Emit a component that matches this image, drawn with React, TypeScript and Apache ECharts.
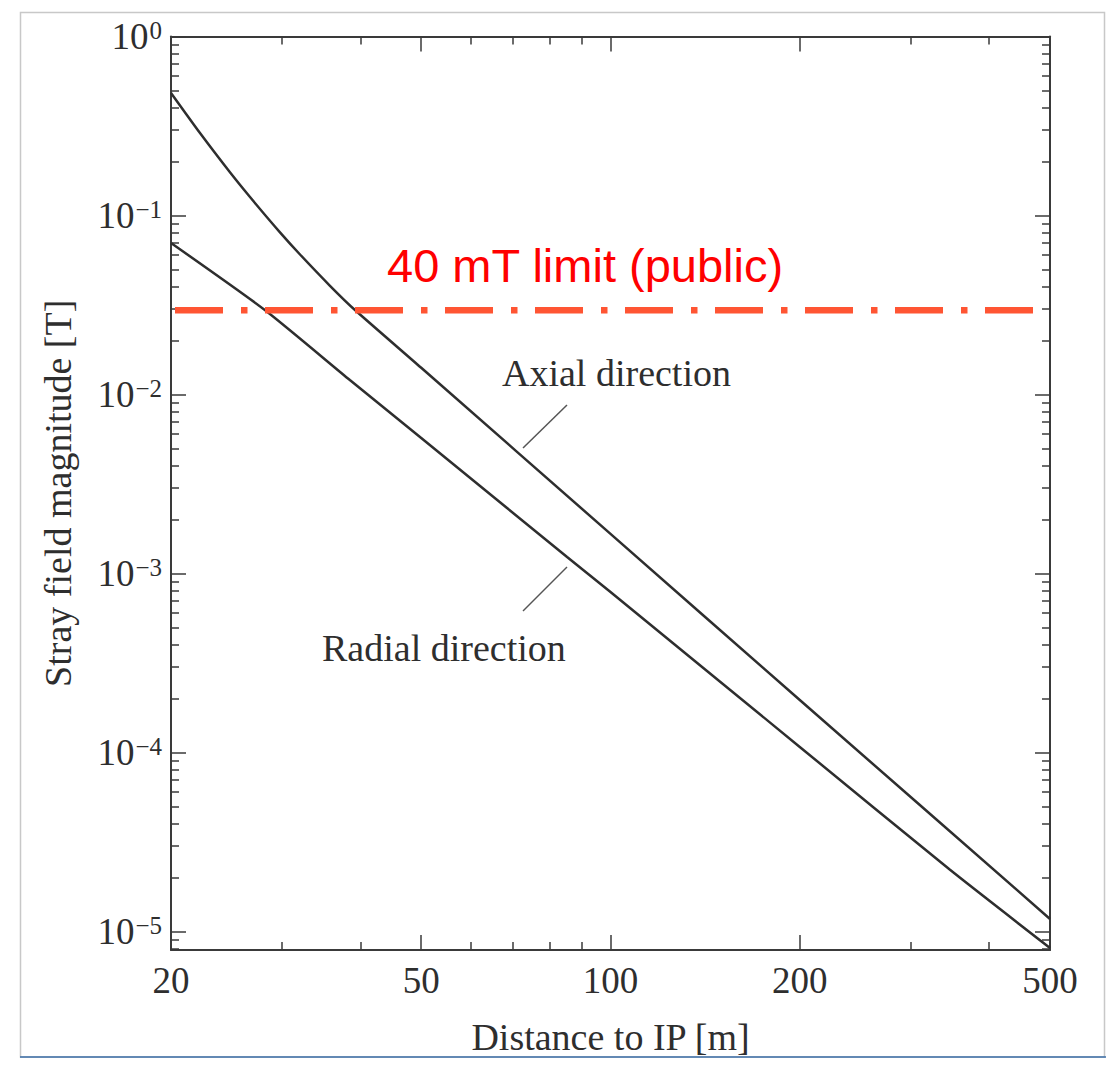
import React, { useEffect, useRef } from "react";
import * as echarts from "echarts";

// ---- data ----
const distanceAxial = [20, 22.24, 24.82, 26.71, 29.81, 32.08, 35.8, 39.23, 50, 100, 200, 500];
const fieldAxial = [0.4834, 0.2887, 0.1743, 0.1268, 0.0805, 0.06054, 0.04049, 0.02965, 0.0141, 0.001664, 0.0001965, 0.00001175];

const distanceRadial = [20, 28.2, 38.5, 50, 85.3, 100, 200, 346.7, 500];
const fieldRadial = [0.0702, 0.02965, 0.01205, 0.00571, 0.001236, 0.000788, 0.0001074, 0.0000221, 0.00000809];

const limitDistance = [20, 500];
const limitValue = 0.0296;

const xLabelValues = [20, 50, 100, 200, 500];
const xMajorTicks = [50, 100, 200];
const xMinorTicks = [30, 40, 60, 70, 80, 90, 300, 400];
const yLabelValues = [1, 0.1, 0.01, 0.001, 0.0001, 0.00001];
const yMinorMantissas = [2, 3, 4, 5, 6, 7, 8, 9];
const yMinorDecades = [-6, -5, -4, -3, -2, -1];

const X_MIN = 20;
const X_MAX = 500;
const Y_MIN = 7.88e-6;
const Y_MAX = 1;

const yMinorTicks: number[] = [];
yMinorDecades.forEach((e) =>
  yMinorMantissas.forEach((m) => {
    const v = m * Math.pow(10, e);
    if (v > Y_MIN && v < Y_MAX) yMinorTicks.push(Number(v.toPrecision(3)));
  })
);

const AXIS_COLOR = "#3a3a3a";
const TEXT_COLOR = "#2e2e2e";
const SERIF = "'Liberation Serif', 'Times New Roman', serif";

export default function App() {
  const ref = useRef<HTMLDivElement>(null);

  useEffect(() => {
    document.body.style.margin = "0";
    if (!ref.current) return;
    const chart = echarts.init(ref.current, undefined, { renderer: "svg" });

    const axisLine = { show: true, onZero: false, lineStyle: { color: AXIS_COLOR, width: 2 } };
    const noLine = { show: false, onZero: false };

    const xBase = { type: "log" as const, min: X_MIN, max: X_MAX, logBase: 10, splitLine: { show: false }, gridIndex: 0 };
    const yBase = { type: "log" as const, min: Y_MIN, max: Y_MAX, logBase: 10, splitLine: { show: false }, gridIndex: 0 };

    const supLabel = (v: number) => {
      const e = Math.round(Math.log10(v));
      const s = e === 0 ? "0" : "\u2212" + String(-e);
      return `{b|10}{s|${s}}`;
    };

    const option: any = {
      animation: false,
      backgroundColor: "#ffffff",
      grid: { left: 171, right: 62, top: 36.5, bottom: 118, containLabel: false },
      xAxis: [
        {
          ...xBase,
          position: "bottom",
          axisLine,
          axisTick: { show: true, inside: true, length: 15, customValues: xMajorTicks, lineStyle: { color: AXIS_COLOR, width: 1.5 } },
          axisLabel: {
            show: true,
            customValues: xLabelValues,
            margin: 12,
            color: TEXT_COLOR,
            fontFamily: SERIF,
            fontSize: 37,
            formatter: (v: number) => String(Math.round(v)),
          },
          name: "Distance to IP [m]",
          nameLocation: "middle",
          nameGap: 68,
          nameTextStyle: { color: TEXT_COLOR, fontFamily: SERIF, fontSize: 38 },
        },
        {
          ...xBase,
          position: "bottom",
          axisLine: noLine,
          axisTick: { show: true, inside: true, length: 8, customValues: xMinorTicks, lineStyle: { color: AXIS_COLOR, width: 1.5 } },
          axisLabel: { show: false },
        },
        {
          ...xBase,
          position: "top",
          axisLine,
          axisTick: { show: true, inside: true, length: 15, customValues: xMajorTicks, lineStyle: { color: AXIS_COLOR, width: 1.5 } },
          axisLabel: { show: false },
        },
        {
          ...xBase,
          position: "top",
          axisLine: noLine,
          axisTick: { show: true, inside: true, length: 8, customValues: xMinorTicks, lineStyle: { color: AXIS_COLOR, width: 1.5 } },
          axisLabel: { show: false },
        },
      ],
      yAxis: [
        {
          ...yBase,
          position: "left",
          axisLine,
          axisTick: { show: true, inside: true, length: 15, customValues: yLabelValues, lineStyle: { color: AXIS_COLOR, width: 1.5 } },
          axisLabel: {
            show: true,
            customValues: yLabelValues,
            margin: 9,
            color: TEXT_COLOR,
            fontFamily: SERIF,
            formatter: supLabel,
            rich: {
              b: { fontSize: 37, lineHeight: 37, fontFamily: SERIF, color: TEXT_COLOR },
              s: { fontSize: 25, lineHeight: 25, fontFamily: SERIF, color: TEXT_COLOR, verticalAlign: "top", padding: [0, 0, 22, 1] },
            },
          },
          name: "Stray field magnitude [T]",
          nameLocation: "middle",
          nameRotate: 90,
          nameGap: 94,
          nameTextStyle: { color: TEXT_COLOR, fontFamily: SERIF, fontSize: 38 },
        },
        {
          ...yBase,
          position: "left",
          axisLine: noLine,
          axisTick: { show: true, inside: true, length: 8, customValues: yMinorTicks, lineStyle: { color: AXIS_COLOR, width: 1.5 } },
          axisLabel: { show: false },
        },
        {
          ...yBase,
          position: "right",
          axisLine,
          axisTick: { show: true, inside: true, length: 15, customValues: yLabelValues, lineStyle: { color: AXIS_COLOR, width: 1.5 } },
          axisLabel: { show: false },
        },
        {
          ...yBase,
          position: "right",
          axisLine: noLine,
          axisTick: { show: true, inside: true, length: 8, customValues: yMinorTicks, lineStyle: { color: AXIS_COLOR, width: 1.5 } },
          axisLabel: { show: false },
        },
      ],
      series: [
        {
          name: "Axial direction",
          type: "line",
          xAxisIndex: 0,
          yAxisIndex: 0,
          data: distanceAxial.map((d, i) => [d, fieldAxial[i]]),
          showSymbol: false,
          smooth: 0.2,
          lineStyle: { color: "#2e2e2e", width: 2.5 },
          z: 3,
        },
        {
          name: "Radial direction",
          type: "line",
          xAxisIndex: 0,
          yAxisIndex: 0,
          data: distanceRadial.map((d, i) => [d, fieldRadial[i]]),
          showSymbol: false,
          smooth: 0.2,
          lineStyle: { color: "#2e2e2e", width: 2.5 },
          z: 3,
        },
        {
          name: "40 mT limit (public)",
          type: "line",
          xAxisIndex: 0,
          yAxisIndex: 0,
          data: limitDistance.map((d) => [d, limitValue]),
          showSymbol: false,
          lineStyle: { color: "#ff5533", width: 6.5, type: [48, 18, 6.5, 17.5], dashOffset: -4, cap: "butt" },
          z: 4,
        },
      ],
      graphic: [
        {
          type: "rect",
          shape: { x: 20.5, y: 12.5, width: 1084, height: 1044.5 },
          style: { fill: "none", stroke: "#c8c8c8", lineWidth: 1.5 },
          silent: true,
          z: 0,
        },
        {
          type: "line",
          shape: { x1: 20, y1: 1057, x2: 1106, y2: 1057 },
          style: { stroke: "#3d6fa8", lineWidth: 1.5 },
          silent: true,
        },
        {
          type: "text",
          x: 387,
          y: 265,
          style: {
            text: "40 mT limit (public)",
            fill: "#ff0000",
            font: "47px 'Liberation Sans', Arial, sans-serif",
            textAlign: "left",
            textVerticalAlign: "middle",
          },
          z: 10,
        },
        {
          type: "text",
          x: 502,
          y: 373,
          style: {
            text: "Axial direction",
            fill: TEXT_COLOR,
            font: "38px 'Liberation Serif', 'Times New Roman', serif",
            textAlign: "left",
            textVerticalAlign: "middle",
          },
          z: 10,
        },
        {
          type: "line",
          shape: { x1: 567, y1: 405, x2: 523, y2: 448 },
          style: { stroke: "#555555", lineWidth: 1.5 },
          z: 10,
        },
        {
          type: "text",
          x: 322,
          y: 648,
          style: {
            text: "Radial direction",
            fill: TEXT_COLOR,
            font: "38px 'Liberation Serif', 'Times New Roman', serif",
            textAlign: "left",
            textVerticalAlign: "middle",
          },
          z: 10,
        },
        {
          type: "line",
          shape: { x1: 567, y1: 567, x2: 523, y2: 611 },
          style: { stroke: "#555555", lineWidth: 1.5 },
          z: 10,
        },
      ],
    };

    chart.setOption(option);
    return () => chart.dispose();
  }, []);

  return <div ref={ref} style={{ width: 1112, height: 1068 }} />;
}
